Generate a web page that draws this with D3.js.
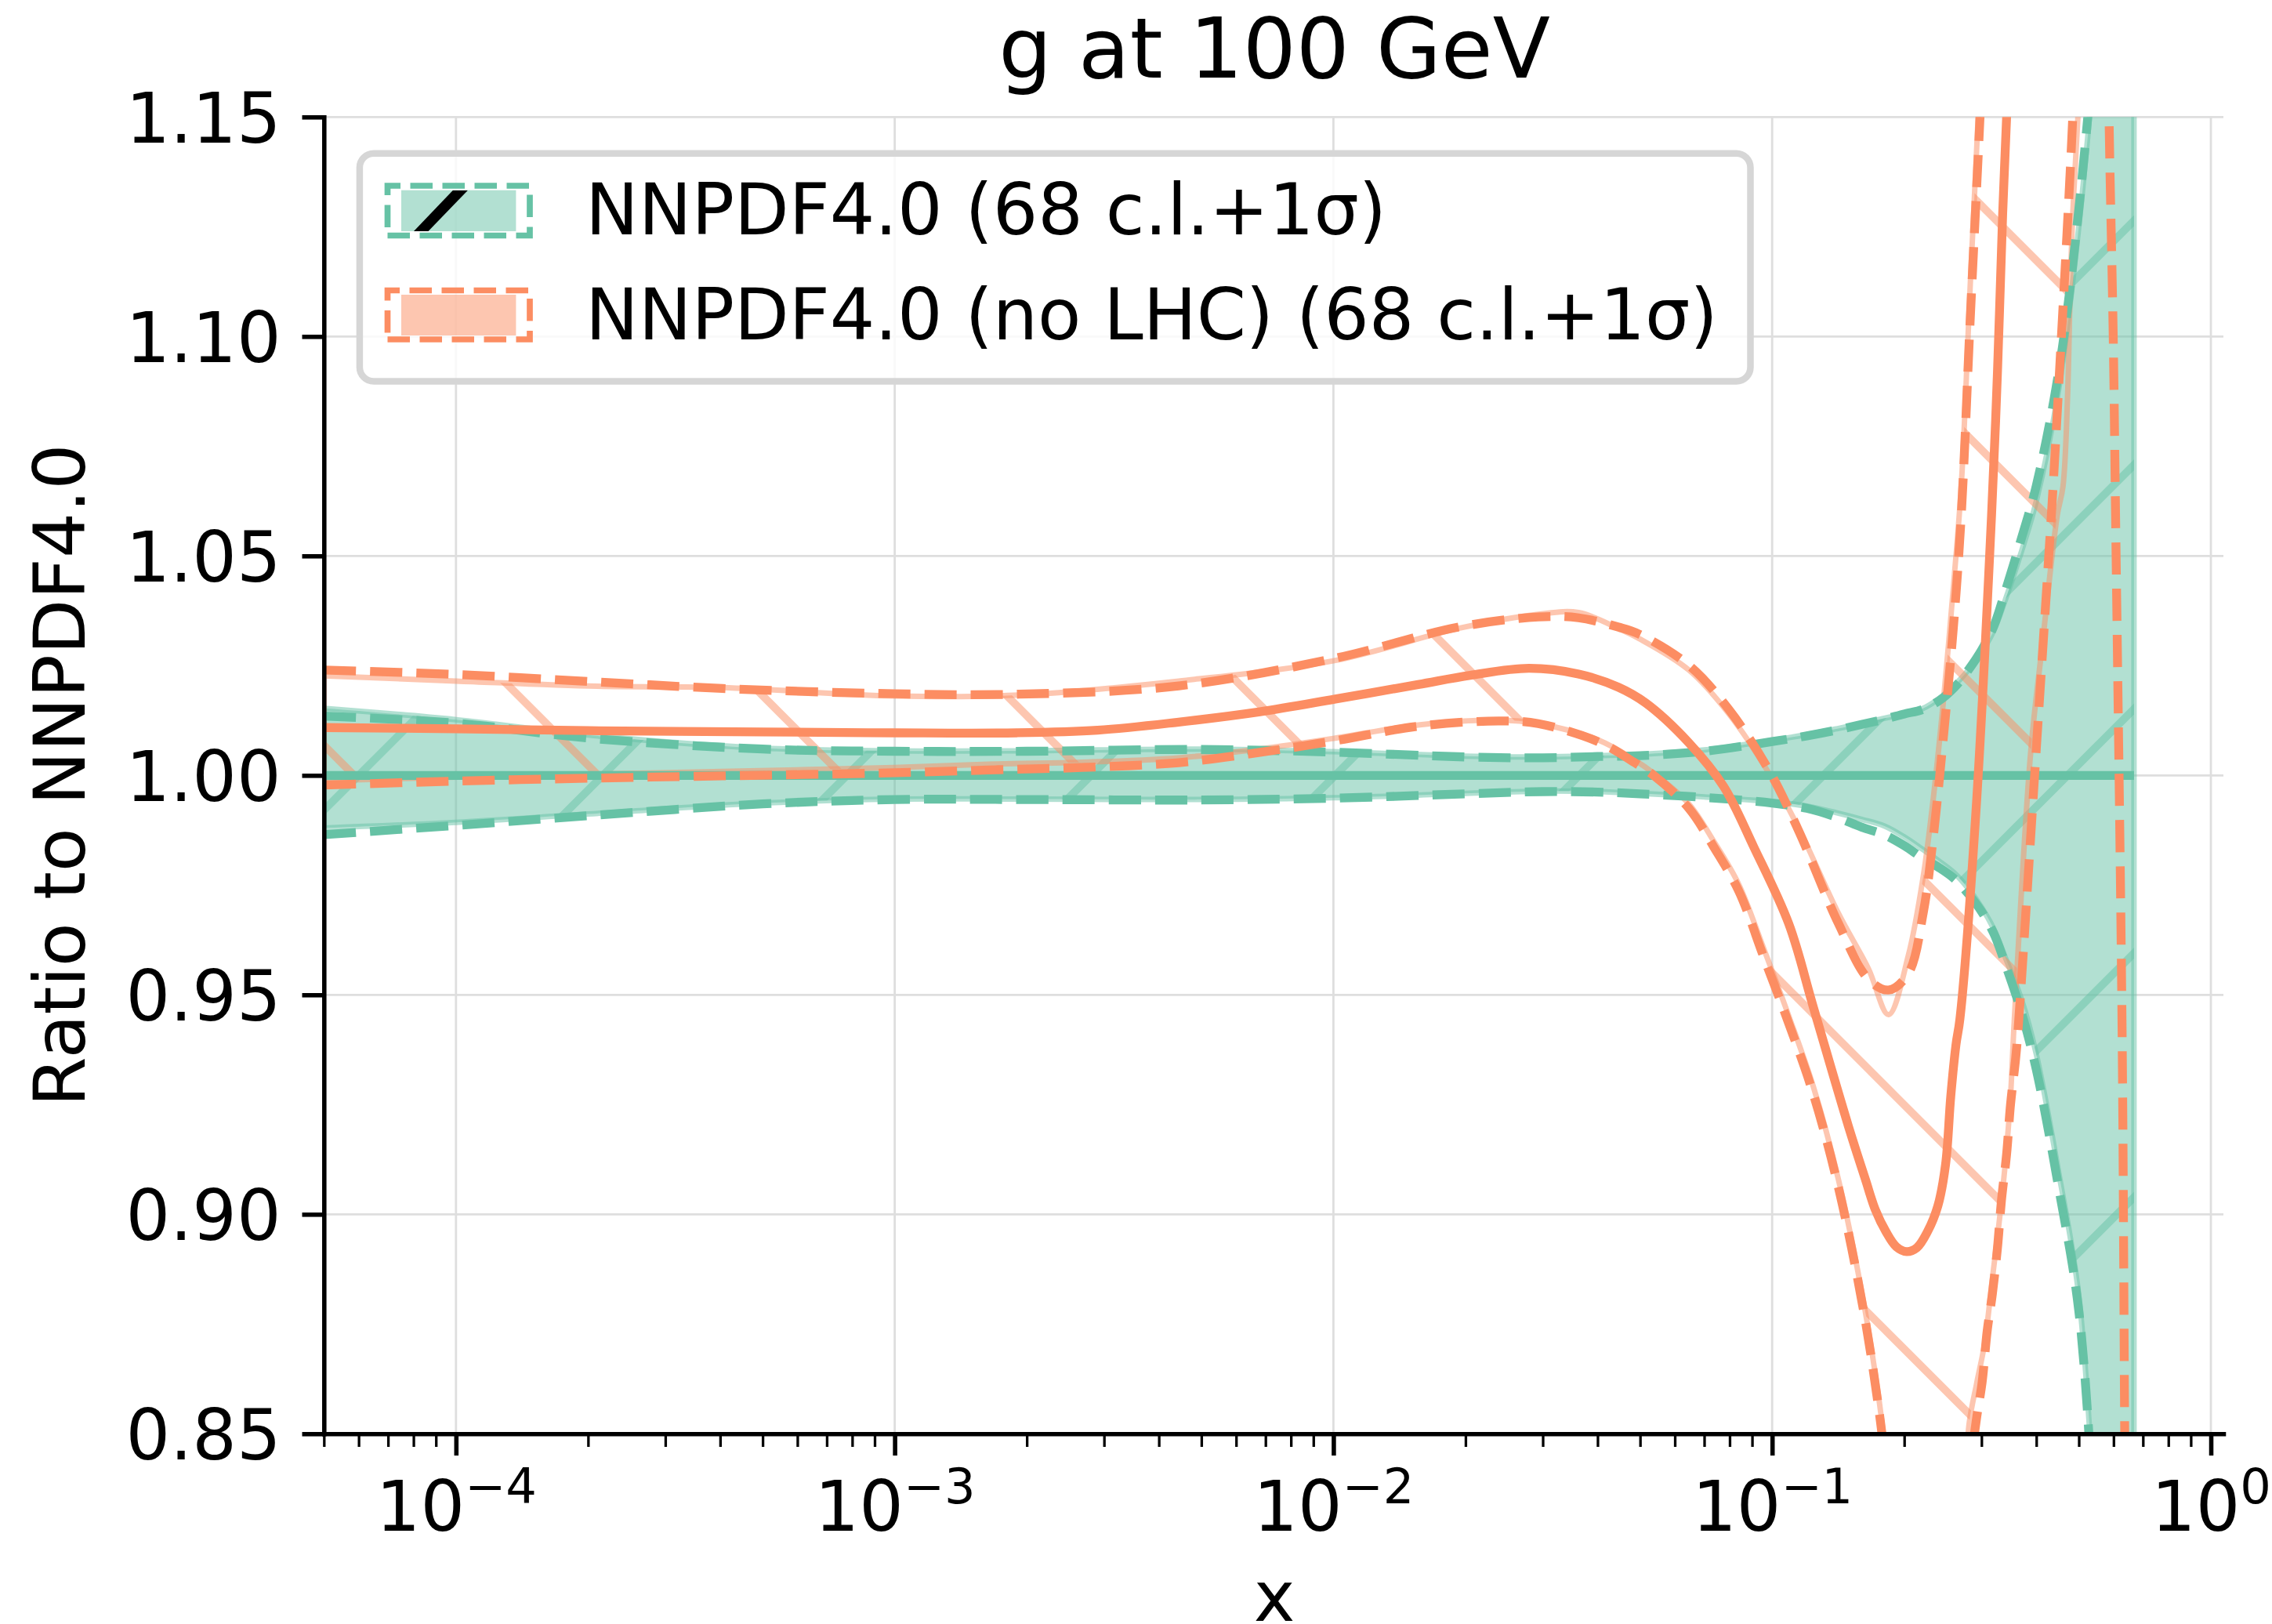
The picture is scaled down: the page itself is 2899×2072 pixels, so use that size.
<!DOCTYPE html>
<html><head><meta charset="utf-8">
<script src="https://cdn.jsdelivr.net/npm/d3@7"></script>
<style>html,body{margin:0;padding:0;background:#fff;}svg{display:block;}</style>
</head><body>
<svg id="chart" width="2899" height="2072"></svg>
<script>
// ---------------- text ----------------
const titleText = "g at 100 GeV";
const xLabelText = "x";
const yLabelText = "Ratio to NNPDF4.0";
const legendLabels = ["NNPDF4.0 (68 c.l.+1σ)", "NNPDF4.0 (no LHC) (68 c.l.+1σ)"];

// ---------------- axes ----------------
const xDomain = [5e-5, 1.068];
const yDomain = [0.85, 1.15];
const yTicks = [0.85, 0.90, 0.95, 1.00, 1.05, 1.10, 1.15];
const xMajorTicks = [1e-4, 1e-3, 1e-2, 1e-1, 1];
const xTickExponents = ["\u22124", "\u22123", "\u22122", "\u22121", "0"];
const xMinorTicks = [5e-5,6e-5,7e-5,8e-5,9e-5,
  2e-4,3e-4,4e-4,5e-4,6e-4,7e-4,8e-4,9e-4,
  2e-3,3e-3,4e-3,5e-3,6e-3,7e-3,8e-3,9e-3,
  0.02,0.03,0.04,0.05,0.06,0.07,0.08,0.09,
  0.2,0.3,0.4,0.5,0.6,0.7,0.8,0.9];

// ---------------- NNPDF4.0 (reference, green) ----------------
const greenX = [5e-5,1e-4,2e-4,5e-4,1e-3,2e-3,5e-3,0.01,0.02,0.03,0.04,0.05,0.07,0.1,0.12,0.14,0.16,0.18,0.2,0.22,0.24,0.26,0.28,0.3,0.32,0.34,0.37,0.4,0.45,0.5,0.55,0.6,0.64,0.668];
const greenCentral = [1,1,1,1,1,1,1,1,1,1,1,1,1,1,1,1,1,1,1,1,1,1,1,1,1,1,1,1,1,1,1,1,1,1];
const green68Upper = [1.0153,1.0127,1.0092,1.0062,1.0056,1.0056,1.0060,1.0054,1.0044,1.0042,1.0045,1.0048,1.0058,1.0080,1.0093,1.0106,1.0118,1.0130,1.0140,1.0152,1.0175,1.0205,1.0240,1.0280,1.0330,1.0400,1.0510,1.0625,1.0880,1.1250,1.1700,1.2250,1.2950,1.3950];
const green68Lower = [0.9880,0.9893,0.9912,0.9937,0.9946,0.9946,0.9945,0.9949,0.9959,0.9964,0.9963,0.9959,0.9951,0.9940,0.9930,0.9915,0.9900,0.9885,0.9860,0.9832,0.9805,0.9778,0.9742,0.9700,0.9650,0.9585,0.9490,0.9365,0.9095,0.8815,0.8240,0.7650,0.7050,0.6050];
const green1sUpper = [1.0135,1.0119,1.0085,1.0060,1.0055,1.0055,1.0059,1.0053,1.0042,1.0040,1.0043,1.0045,1.0055,1.0077,1.0090,1.0103,1.0116,1.0128,1.0140,1.0150,1.0170,1.0200,1.0240,1.0285,1.0340,1.0420,1.0540,1.0660,1.0920,1.1290,1.1750,1.2300,1.3000,1.4000];
const green1sLower = [0.9865,0.9886,0.9908,0.9935,0.9945,0.9945,0.9944,0.9948,0.9958,0.9963,0.9962,0.9958,0.9950,0.9937,0.9925,0.9905,0.9882,0.9865,0.9840,0.9812,0.9790,0.9765,0.9730,0.9690,0.9640,0.9570,0.9460,0.9330,0.9060,0.8780,0.8200,0.7600,0.7000,0.6000];

// ---------------- NNPDF4.0 (no LHC), orange: [x, ratio] ----------------
const orangeCentral = [[5e-5,1.0109],[1e-4,1.0106],[2e-4,1.0102],[5e-4,1.0099],[1e-3,1.0097],[0.0019,1.0097],[0.0029,1.0103],[0.0044,1.0121],[0.0068,1.0145],[0.0101,1.0174],[0.0156,1.0207],[0.0205,1.0228],[0.0279,1.0244],[0.0362,1.0231],[0.0446,1.0201],[0.0515,1.0165],[0.0645,1.0075],[0.0775,0.9975],[0.0908,0.9837],[0.1091,0.9662],[0.1243,0.9470],[0.1493,0.9200],[0.1631,0.9080],[0.1719,0.9010],[0.1818,0.8960],[0.1919,0.8926],[0.2026,0.8915],[0.2138,0.8924],[0.2259,0.8960],[0.2386,0.9019],[0.2485,0.9114],[0.2553,0.9268],[0.2624,0.9386],[0.2679,0.9445],[0.2911,0.9910],[0.3163,1.0593],[0.3264,1.0924],[0.3353,1.1280],[0.3423,1.1500],[0.3600,1.2100]];
const orange68Upper = [[5e-5,1.0227],[1e-4,1.0215],[2.1e-4,1.0203],[4.05e-4,1.0200],[1e-3,1.0181],[1.92e-3,1.0183],[4.44e-3,1.0215],[0.0101,1.0262],[0.0193,1.0335],[0.0293,1.0367],[0.0362,1.0371],[0.0446,1.0335],[0.0497,1.0312],[0.0646,1.0240],[0.0797,1.0140],[0.0983,1.0005],[0.1149,0.9880],[0.1417,0.9685],[0.1657,0.9560],[0.1842,0.9455],[0.2044,0.9590],[0.2210,0.9770],[0.2331,0.9950],[0.2457,1.0170],[0.2589,1.0430],[0.2698,1.0660],[0.2829,1.1120],[0.2967,1.1560],[0.3100,1.2000],[0.3500,1.3500],[0.4500,1.6000],[0.5200,1.7000]];
const orange68Lower = [[5e-5,0.9988],[1e-4,0.9996],[2.1e-4,1.0003],[4.05e-4,1.0009],[1e-3,1.0018],[1.72e-3,1.0026],[2.67e-3,1.0030],[4.44e-3,1.0040],[6.75e-3,1.0060],[0.0101,1.0085],[0.0156,1.0115],[0.0238,1.0126],[0.0293,1.0118],[0.0403,1.0080],[0.0486,1.0035],[0.0537,1.0005],[0.0646,0.9935],[0.0736,0.9850],[0.0839,0.9752],[0.0957,0.9605],[0.1091,0.9452],[0.1242,0.9290],[0.1417,0.9078],[0.1616,0.8800],[0.1748,0.8585],[0.1900,0.8300],[0.2200,0.7950],[0.2600,0.8050],[0.2810,0.8521],[0.2927,0.8616],[0.3049,0.8705],[0.3176,0.8853],[0.3308,0.9001],[0.3423,0.9149],[0.3494,0.9268],[0.3565,0.9445],[0.3882,1.0050],[0.4131,1.0300],[0.4466,1.0593],[0.4601,1.0658],[0.4714,1.0865],[0.4778,1.1102],[0.4844,1.1280],[0.4977,1.1500],[0.5200,1.2000]];
const orange1sUpper = [[5e-5,1.0240],[1e-4,1.0230],[2.1e-4,1.0213],[4.05e-4,1.0198],[1e-3,1.0186],[1.92e-3,1.0185],[4.44e-3,1.0204],[0.0101,1.0267],[0.0193,1.0338],[0.0293,1.0361],[0.0362,1.0359],[0.0446,1.0338],[0.0497,1.0322],[0.0646,1.0251],[0.0797,1.0150],[0.0983,1.0012],[0.1149,0.9874],[0.1417,0.9662],[0.1657,0.9536],[0.1842,0.9511],[0.2044,0.9549],[0.2210,0.9687],[0.2331,0.9862],[0.2457,1.0088],[0.2589,1.0338],[0.2698,1.0593],[0.2829,1.1043],[0.2967,1.1469],[0.3100,1.1900],[0.3300,1.2600]];
const orange1sLower = [[5e-5,0.9978],[1e-4,0.9987],[2.1e-4,0.9994],[4.05e-4,0.9999],[1e-3,1.0006],[1.72e-3,1.0013],[2.67e-3,1.0018],[4.44e-3,1.0029],[6.75e-3,1.0052],[0.0101,1.0079],[0.0156,1.0112],[0.0238,1.0124],[0.0293,1.0118],[0.0403,1.0076],[0.0486,1.0029],[0.0537,1.0000],[0.0646,0.9925],[0.0736,0.9837],[0.0839,0.9737],[0.0957,0.9586],[0.1091,0.9435],[0.1242,0.9273],[0.1417,0.9060],[0.1616,0.8780],[0.1748,0.8560],[0.1900,0.8270],[0.2200,0.7900],[0.2600,0.8000],[0.2810,0.8400],[0.2927,0.8539],[0.3009,0.8616],[0.3091,0.8734],[0.3176,0.8818],[0.3263,0.8924],[0.3331,0.9031],[0.3423,0.9137],[0.3494,0.9250],[0.3590,0.9356],[0.3639,0.9427],[0.4000,1.0060],[0.4344,1.0617],[0.4403,1.0717],[0.4524,1.0930],[0.4650,1.1149],[0.4778,1.1374],[0.4844,1.1500],[0.5000,1.1800]];
const orange1sTail = [[0.5800,1.1900],[0.5860,1.1500],[0.5990,1.1000],[0.6064,1.0593],[0.6275,0.9421],[0.6360,0.8522],[0.6420,0.8000]];

// ---------------- colours ----------------
const GREEN = "#66c2a5", ORANGE = "#fc8d62";
const GREEN_A = "rgba(102,194,165,0.5)", ORANGE_A = "rgba(252,141,98,0.5)";
const FONT = "DejaVu Sans";

// ---------------- layout ----------------
const M = {left: 413.3, right: 2837, top: 149.3, bottom: 1829.3};
const svg = d3.select("#chart");
const defs = svg.append("defs");
defs.append("clipPath").attr("id", "plotClip").append("rect")
  .attr("x", M.left).attr("y", M.top).attr("width", M.right - M.left).attr("height", M.bottom - M.top);

const x = d3.scaleLog().domain(xDomain).range([M.left, M.right]);
const y = d3.scaleLinear().domain(yDomain).range([M.bottom, M.top]);

const zip = (xs, ys) => xs.map((v, i) => [v, ys[i]]);
const line = d3.line().x(d => x(d[0])).y(d => y(d[1])).curve(d3.curveCatmullRom.alpha(0.5));
const bandPath = (up, lo) => line(up) + "L" + line(lo.slice().reverse()).slice(1) + "Z";

// grid
const grid = svg.append("g");
grid.selectAll("line.vg").data(xMajorTicks).join("line").attr("class", "vg")
  .attr("x1", d => x(d)).attr("x2", d => x(d)).attr("y1", M.top).attr("y2", M.bottom)
  .attr("stroke", "#dedede").attr("stroke-width", 2.8);
grid.selectAll("line.hg").data(yTicks).join("line").attr("class", "hg")
  .attr("y1", d => y(d)).attr("y2", d => y(d)).attr("x1", M.left).attr("x2", M.right)
  .attr("stroke", "#dedede").attr("stroke-width", 2.8);

const plot = svg.append("g").attr("clip-path", "url(#plotClip)");

function drawHatch(parent, d, dir, phase, P, color, width, id) {
  defs.append("clipPath").attr("id", id).append("path").attr("d", d);
  const g = parent.append("g").attr("clip-path", `url(#${id})`);
  const segs = [];
  if (dir === "/") {
    const k0 = Math.floor((M.left + M.top - phase) / P) - 1, k1 = Math.ceil((M.right + M.bottom - phase) / P) + 1;
    for (let k = k0; k <= k1; k++) { const c = phase + k * P; segs.push([c - M.top, M.top, c - M.bottom, M.bottom]); }
  } else {
    const k0 = Math.floor((M.top - M.right - phase) / P) - 1, k1 = Math.ceil((M.bottom - M.left - phase) / P) + 1;
    for (let k = k0; k <= k1; k++) { const c = phase + k * P; segs.push([M.top - c, M.top, M.bottom - c, M.bottom]); }
  }
  g.selectAll("line").data(segs).join("line")
    .attr("x1", s => s[0]).attr("y1", s => s[1]).attr("x2", s => s[2]).attr("y2", s => s[3])
    .attr("stroke", color).attr("stroke-width", width);
}

// green band
const gBand = bandPath(zip(greenX, green68Upper), zip(greenX, green68Lower));
plot.append("path").attr("d", gBand).attr("fill", GREEN_A);
drawHatch(plot, gBand, "/", 201, 311.5, GREEN_A, 10, "gHatch");
plot.append("path").attr("d", gBand).attr("fill", "none").attr("stroke", GREEN_A).attr("stroke-width", 7).attr("stroke-linejoin", "round");

// orange band (hatch only)
const oBand = bandPath(orange68Upper, orange68Lower);
drawHatch(plot, oBand, "\\", 226, 311.5, ORANGE_A, 10, "oHatch");
plot.append("path").attr("d", oBand).attr("fill", "none").attr("stroke", ORANGE_A).attr("stroke-width", 7).attr("stroke-linejoin", "round");

// lines
const solid = (data, color) => plot.append("path").attr("d", line(data)).attr("fill", "none")
  .attr("stroke", color).attr("stroke-width", 11.3).attr("stroke-linejoin", "round");
const dashed = (data, color) => plot.append("path").attr("d", line(data)).attr("fill", "none")
  .attr("stroke", color).attr("stroke-width", 11.3).attr("stroke-dasharray", "41,18").attr("stroke-linejoin", "round");

solid(zip(greenX, greenCentral), GREEN);
dashed(zip(greenX, green1sUpper), GREEN);
dashed(zip(greenX, green1sLower), GREEN);
solid(orangeCentral, ORANGE);
dashed(orange1sUpper, ORANGE);
dashed(orange1sLower, ORANGE);
dashed(orange1sTail, ORANGE);

// ---------------- axes ----------------
const gxMinor = svg.append("g").attr("transform", `translate(0,${M.bottom})`)
  .call(d3.axisBottom(x).tickValues(xMinorTicks).tickSize(16.7).tickSizeOuter(0).tickFormat(() => ""));
gxMinor.select(".domain").remove();
gxMinor.selectAll(".tick line").attr("stroke", "#000").attr("stroke-width", 3.3);
gxMinor.selectAll(".tick text").remove();

const gx = svg.append("g").attr("transform", `translate(0,${M.bottom})`)
  .call(d3.axisBottom(x).tickValues(xMajorTicks).tickSize(27.8).tickSizeOuter(0).tickFormat(() => ""));
gx.select(".domain").attr("stroke", "#000").attr("stroke-width", 5.56).attr("stroke-linecap", "square");
gx.selectAll(".tick line").attr("stroke", "#000").attr("stroke-width", 5.56);
gx.selectAll(".tick text").each(function(d, i) {
  const t = d3.select(this);
  t.text(null).attr("y", 123.7).attr("dy", null).attr("text-anchor", "middle")
    .attr("font-family", FONT).attr("font-size", 89).attr("fill", "#000");
  t.append("tspan").text("10");
  t.append("tspan").attr("dy", -35).attr("font-size", 62.3).text(xTickExponents[i]);
});

const gy = svg.append("g").attr("transform", `translate(${M.left},0)`)
  .call(d3.axisLeft(y).tickValues(yTicks).tickSize(27.8).tickSizeOuter(0).tickPadding(26.9).tickFormat(d3.format(".2f")));
gy.select(".domain").attr("stroke", "#000").attr("stroke-width", 5.56).attr("stroke-linecap", "square");
gy.selectAll(".tick line").attr("stroke", "#000").attr("stroke-width", 5.56);
gy.selectAll(".tick text").attr("font-family", FONT).attr("font-size", 89).attr("fill", "#000").attr("dy", "0.364em");

// ---------------- labels ----------------
svg.append("text").attr("x", 1626).attr("y", 99.3).attr("text-anchor", "middle")
  .attr("font-family", FONT).attr("font-size", 107).text(titleText);
svg.append("text").attr("x", 1626).attr("y", 2068).attr("text-anchor", "middle")
  .attr("font-family", FONT).attr("font-size", 89).text(xLabelText);
svg.append("text").attr("transform", `translate(108.3,${(M.top + M.bottom) / 2}) rotate(-90)`)
  .attr("text-anchor", "middle").attr("font-family", FONT).attr("font-size", 91.5).text(yLabelText);

// ---------------- legend ----------------
const lg = svg.append("g");
lg.append("rect").attr("x", 458.9).attr("y", 195.8).attr("width", 1774.6).attr("height", 290.7).attr("rx", 18)
  .attr("fill", "rgba(255,255,255,0.8)").attr("stroke", "#d6d6d6").attr("stroke-width", 8.5);
const rows = [
  {label: legendLabels[0], y0: 237, y1: 300.5, fy0: 242.7, fy1: 295, stroke: GREEN, fill: GREEN_A, slash: true, ty: 299.3},
  {label: legendLabels[1], y0: 370.5, y1: 433, fy0: 376, fy1: 428, stroke: ORANGE, fill: ORANGE_A, slash: false, ty: 432.7}
];
rows.forEach((r, i) => {
  lg.append("rect").attr("x", 512).attr("y", r.fy0).attr("width", 146.4).attr("height", r.fy1 - r.fy0).attr("fill", r.fill);
  if (r.slash) {
    defs.append("clipPath").attr("id", "lgClip" + i).append("rect")
      .attr("x", 512).attr("y", r.fy0).attr("width", 146.4).attr("height", r.fy1 - r.fy0);
    lg.append("polygon").attr("clip-path", `url(#lgClip${i})`)
      .attr("points", `528,${r.fy1} 546.5,${r.fy1} 597,${r.fy0} 578,${r.fy0}`).attr("fill", "#000");
  }
  lg.append("path").attr("d", `M494.5,${r.y1}H676V${r.y0}H494.5Z`).attr("fill", "none")
    .attr("stroke", r.stroke).attr("stroke-width", 7.7).attr("stroke-dasharray", "28.5,12.5");
  lg.append("text").attr("x", 747).attr("y", r.ty).attr("font-family", FONT).attr("font-size", 90.5).text(r.label);
});
</script>
</body></html>
